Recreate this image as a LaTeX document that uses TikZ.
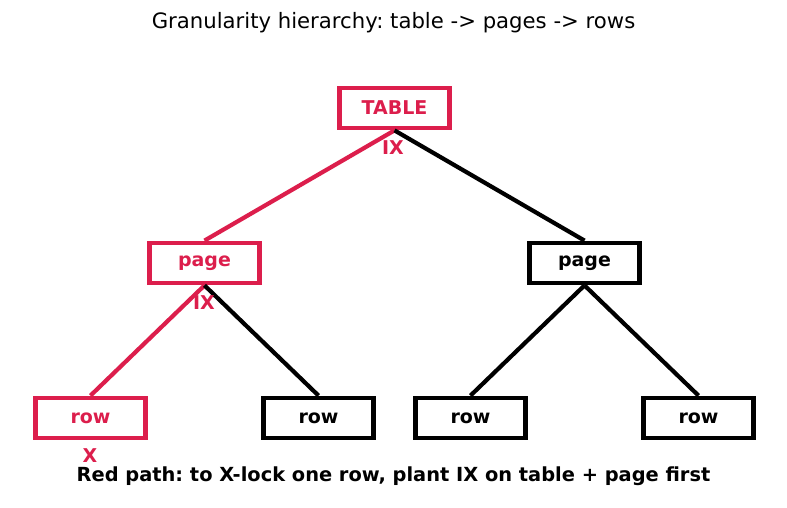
\documentclass[tikz,border=0pt]{standalone}
\usepackage{fontspec}
\setmainfont{DejaVu Sans}
\frenchspacing
\definecolor{lockred}{RGB}{220,30,76}
\begin{document}
\begin{tikzpicture}[x=1pt,y=-1pt,
  box/.style={draw,line width=4.3pt,minimum width=110pt,minimum height=40.5pt,inner sep=0pt,fill=white,font=\fontsize{19}{22}\selectfont\bfseries},
  redbox/.style={box,draw=lockred,text=lockred},
  blackbox/.style={box,draw=black,text=black},
  edge/.style={line width=4.2pt},
  redlbl/.style={text=lockred,font=\fontsize{19}{22}\selectfont\bfseries,inner sep=0pt}]
\useasboundingbox (0,0) rectangle (787,508);
\node[font=\fontsize{21.2}{25}\selectfont] (title) at (393.5,23) {Granularity hierarchy: table -> pages -> rows};
\coordinate (pT) at (394.5,108);
\coordinate (pP1) at (204.5,263);
\coordinate (pP2) at (584.5,263);
\node[redbox] (table) at (pT) {TABLE};
\node[redbox] (page1) at (pP1) {page};
\node[blackbox] (page2) at (pP2) {page};
\node[redbox] (row1) at (90.5,418) {row};
\node[blackbox] (row2) at (318.5,418) {row};
\node[blackbox] (row3) at (470.5,418) {row};
\node[blackbox] (row4) at (698.5,418) {row};
\draw[edge,lockred] (table.south) -- (page1.north);
\draw[edge,black] (table.south) -- (page2.north);
\draw[edge,lockred] (page1.south) -- (row1.north);
\draw[edge,black] (page1.south) -- (row2.north);
\draw[edge,black] (page2.south) -- (row3.north);
\draw[edge,black] (page2.south) -- (row4.north);
\node[redlbl] (ix1) at (393,148) {IX};
\node[redlbl] (ix2) at (204,303) {IX};
\node[redlbl] (x1) at (90,456) {X};
\node[font=\fontsize{19.4}{22}\selectfont\bfseries] (cap) at (393.5,476.5) {Red path: to X-lock one row, plant IX on table + page first};
\end{tikzpicture}
\end{document}
